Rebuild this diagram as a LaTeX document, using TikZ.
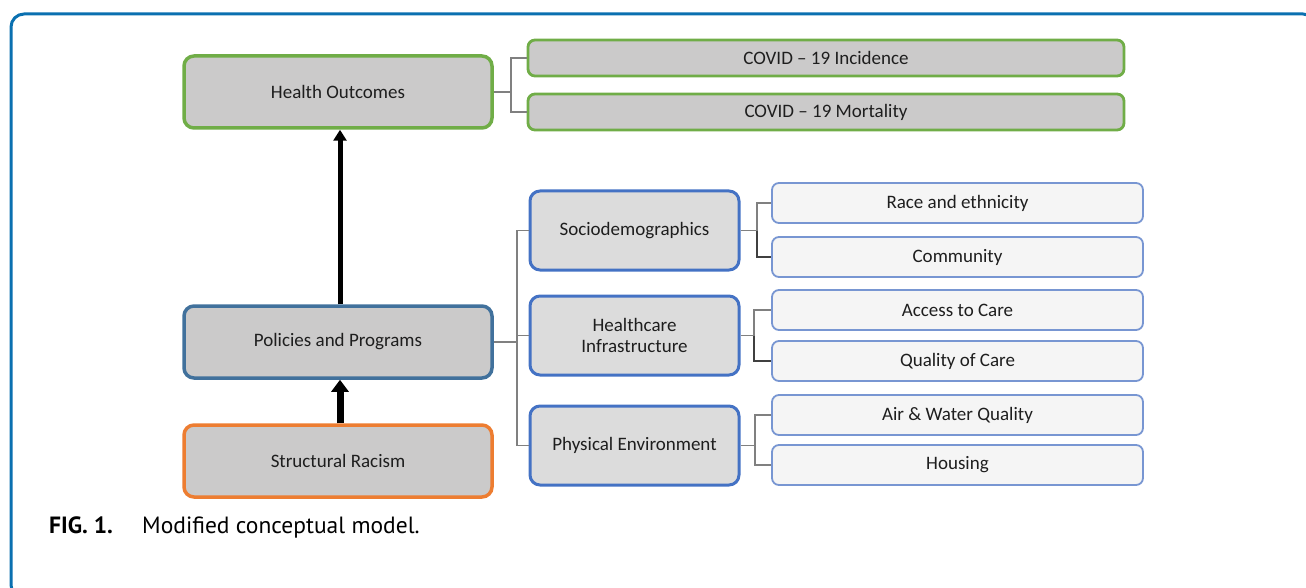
\documentclass[tikz,border=0pt]{standalone}
\usepackage{fontspec}
\setmainfont{Carlito}
\newfontfamily\capfont{PT Sans}
\usetikzlibrary{arrows.meta}
\definecolor{frameblue}{HTML}{0A70B0}
\definecolor{hogreen}{HTML}{70AD47}
\definecolor{ppblue}{HTML}{41719C}
\definecolor{catblue}{HTML}{4472C4}
\definecolor{leafblue}{HTML}{7896D2}
\definecolor{srorange}{HTML}{ED7D31}
\definecolor{boxgray}{HTML}{CBCACA}
\definecolor{catgray}{HTML}{DCDCDC}
\definecolor{leafgray}{HTML}{F5F5F5}
\definecolor{txt}{HTML}{1E1E1E}
\definecolor{conn}{HTML}{808080}
\definecolor{conndark}{HTML}{404040}
\tikzset{
  base/.style={rectangle, rounded corners=10pt, align=center, text=txt, font=\fontsize{19}{22}\selectfont, inner sep=0pt},
  mainbox/.style={base, fill=boxgray, line width=3.5pt, minimum width=308pt, minimum height=72pt},
  covidbox/.style={base, fill=boxgray, draw=hogreen, line width=2.8pt, rounded corners=7pt, minimum width=596pt, minimum height=36pt},
  catbox/.style={base, fill=catgray, draw=catblue, line width=3pt, minimum width=209pt, minimum height=79pt},
  leafbox/.style={base, fill=leafgray, draw=leafblue, line width=1.8pt, rounded corners=7pt, minimum width=371pt, minimum height=40pt},
  link/.style={draw=conn, line width=1.5pt},
  linkd/.style={draw=conndark, line width=1.5pt},
  bigarrow/.style={draw=black, line width=5pt, -{Triangle[width=13pt,length=11pt]}}
}
\begin{document}
\begin{tikzpicture}[x=1pt,y=-1pt]
\useasboundingbox (0,0) rectangle (1306,588);
\begin{scope}
\clip (0,0) rectangle (1306,588);
\draw[frameblue, line width=3pt, rounded corners=13pt] (11,14) rectangle (1316,598);
\end{scope}

% main column
\node[mainbox, draw=hogreen] (ho) at (338,92) {Health Outcomes};
\node[mainbox, draw=ppblue] (pp) at (338,342) {Policies and Programs};
\node[mainbox, draw=srorange] (sr) at (338,461) {Structural Racism};

% outcomes
\node[covidbox] (c1) at (826,58) {COVID -- 19 Incidence};
\node[covidbox] (c2) at (826,112) {COVID -- 19 Mortality};

% categories
\node[catbox] (s1) at (634.5,230.5) {Sociodemographics};
\node[catbox] (s2) at (634.5,335.5) {Healthcare\\[-1pt]Infrastructure};
\node[catbox] (s3) at (634.5,445.5) {Physical Environment};

% leaves
\node[leafbox] (l1) at (957.5,203) {Race and ethnicity};
\node[leafbox] (l2) at (957.5,257) {Community};
\node[leafbox] (l3) at (957.5,310) {Access to Care};
\node[leafbox] (l4) at (957.5,361) {Quality of Care};
\node[leafbox] (l5) at (957.5,415) {Air \& Water Quality};
\node[leafbox] (l6) at (957.5,465) {Housing};

% junctions
\coordinate (j0) at (511,92);
\coordinate (j1) at (517,342);
\coordinate (ja) at (757,230.5);
\coordinate (jb) at (754,335.5);
\coordinate (jc) at (755,445.5);

% connectors
\draw[link] (ho.east) -- (j0) |- (c1.west);
\draw[link] (j0) |- (c2.west);
\draw[link] (pp.east) -- (j1) |- (s1.west);
\draw[link] (j1) |- (s2.west);
\draw[link] (j1) |- (s3.west);
\draw[link] (s1.east) -- (ja) |- (l1.west);
\draw[linkd] (ja) |- (l2.west);
\draw[link] (s2.east) -- (jb) |- (l3.west);
\draw[linkd] (jb) |- (l4.west);
\draw[link] (s3.east) -- (jc) |- (l5.west);
\draw[link] (jc) |- (l6.west);

% arrows
\draw[bigarrow] ([xshift=2pt]pp.north) -- ([xshift=2pt]ho.south);
\draw[draw=black, line width=7pt, -{Triangle[width=17pt,length=12pt]}] ([xshift=2pt]sr.north) -- ([xshift=2pt]pp.south);

% caption
\node[anchor=base west, inner sep=0pt, font=\capfont\fontsize{23.5}{27}\selectfont\bfseries] (figlbl) at (49,533) {FIG. 1.};
\node[anchor=base west, inner sep=0pt, font=\capfont\fontsize{23.5}{27}\selectfont] (figcap) at (142,533) {Modified conceptual model.};
\end{tikzpicture}
\end{document}
